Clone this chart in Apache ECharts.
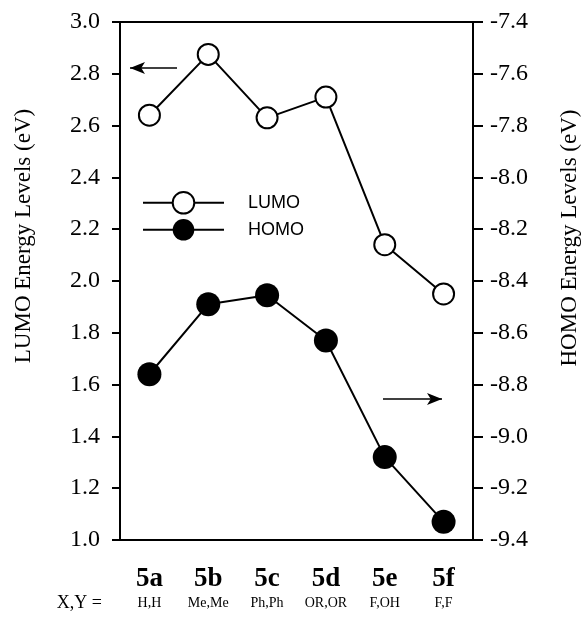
<!DOCTYPE html>
<html>
<head>
<meta charset="utf-8">
<script src="https://cdn.jsdelivr.net/npm/echarts@6/dist/echarts.min.js"></script>
<style>
  html, body { margin: 0; padding: 0; background: #fff; }
  #container { width: 584px; height: 617px; }
</style>
</head>
<body>
<div id="container"></div>
<script>
const compounds = ["5a", "5b", "5c", "5d", "5e", "5f"];
const substituents = ["H,H", "Me,Me", "Ph,Ph", "OR,OR", "F,OH", "F,F"];
const lumo = [2.64, 2.875, 2.63, 2.71, 2.14, 1.95];
const homo = [-8.76, -8.49, -8.455, -8.63, -9.08, -9.33];

const serif = '"Liberation Serif", "Times New Roman", serif';
const black = "#000";

const chart = echarts.init(document.getElementById("container"), null, {
  renderer: "canvas",
});

const axisLine = { show: true, lineStyle: { color: black, width: 2 } };

function legendFor(name, top) {
  return {
    orient: "vertical",
    left: 137,
    top: top,
    itemWidth: 81,
    itemHeight: 27,
    data: [name],
    textStyle: {
      fontFamily: '"Liberation Sans", Arial, sans-serif',
      fontSize: 18,
      color: black,
      padding: [0, 0, 0, 19],
    },
  };
}

chart.setOption({
  animation: false,
  backgroundColor: "#fff",
  grid: { left: 120, right: 111, top: 22, bottom: 77 },
  legend: [legendFor("LUMO", 186), legendFor("HOMO", 214)],
  xAxis: [
    {
      type: "category",
      data: compounds,
      position: "bottom",
      axisLine: axisLine,
      axisTick: { show: false },
      axisLabel: {
        margin: 23,
        interval: 0,
        formatter: function (value, index) {
          return "{a|" + value + "}\n{b|" + substituents[index] + "}";
        },
        rich: {
          a: { fontFamily: serif, fontSize: 27, fontWeight: "bold", color: black, lineHeight: 32 },
          b: { fontFamily: serif, fontSize: 14, color: black, lineHeight: 16 },
        },
      },
      splitLine: { show: false },
    },
    {
      type: "category",
      data: compounds,
      position: "top",
      axisLine: axisLine,
      axisTick: { show: false },
      axisLabel: { show: false },
      splitLine: { show: false },
    },
  ],
  yAxis: [
    {
      type: "value",
      min: 1,
      max: 3,
      interval: 0.2,
      position: "left",
      axisLine: axisLine,
      axisTick: { show: true, length: 8, lineStyle: { color: black, width: 2 } },
      axisLabel: {
        margin: 20,
        fontFamily: serif,
        fontSize: 24,
        color: black,
        formatter: (v) => v.toFixed(1),
      },
      splitLine: { show: false },
    },
    {
      type: "value",
      min: -9.4,
      max: -7.4,
      interval: 0.2,
      position: "right",
      axisLine: axisLine,
      axisTick: { show: true, length: 10, lineStyle: { color: black, width: 2 } },
      axisLabel: {
        margin: 17,
        fontFamily: serif,
        fontSize: 24,
        color: black,
        formatter: (v) => v.toFixed(1),
      },
      splitLine: { show: false },
    },
  ],
  graphic: [
    {
      type: "text",
      x: 24,
      y: 236,
      rotation: Math.PI / 2,
      style: {
        text: "LUMO Energy Levels (eV)",
        font: "23px " + serif,
        fill: black,
        align: "center",
        verticalAlign: "middle",
      },
    },
    {
      type: "text",
      x: 570,
      y: 238,
      rotation: Math.PI / 2,
      style: {
        text: "HOMO Energy Levels (eV)",
        font: "23px " + serif,
        fill: black,
        align: "center",
        verticalAlign: "middle",
      },
    },
    {
      type: "text",
      x: 102,
      y: 603,
      style: {
        text: "X,Y =",
        font: "18px " + serif,
        fill: black,
        align: "right",
        verticalAlign: "middle",
      },
    },
  ],
  series: [
    {
      name: "LUMO",
      type: "line",
      yAxisIndex: 0,
      data: lumo,
      symbol: "circle",
      symbolSize: 21,
      lineStyle: { color: black, width: 2 },
      itemStyle: { color: "#fff", borderColor: black, borderWidth: 2 },
      markLine: {
        silent: true,
        symbol: ["arrow", "none"],
        symbolSize: [9, 15],
        label: { show: false },
        lineStyle: { color: black, width: 1.5, type: "solid" },
        data: [[{ x: 130, y: 68 }, { x: 177, y: 68 }]],
      },
    },
    {
      name: "HOMO",
      type: "line",
      yAxisIndex: 1,
      data: homo,
      symbol: "circle",
      symbolSize: 24,
      lineStyle: { color: black, width: 2 },
      itemStyle: { color: black, borderColor: black, borderWidth: 0 },
      markLine: {
        silent: true,
        symbol: ["none", "arrow"],
        symbolSize: [9, 15],
        label: { show: false },
        lineStyle: { color: black, width: 1.5, type: "solid" },
        data: [[{ x: 383, y: 399 }, { x: 442, y: 399 }]],
      },
    },
  ],
});

window.addEventListener("resize", chart.resize);
</script>
</body>
</html>
